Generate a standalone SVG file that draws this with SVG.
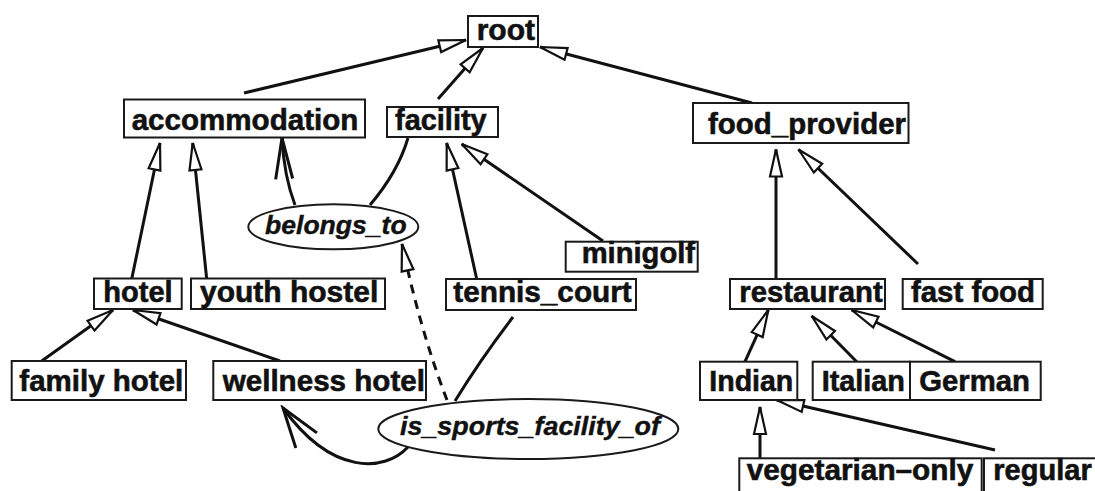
<svg xmlns="http://www.w3.org/2000/svg" width="1095" height="491" viewBox="0 0 1095 491">
  <style>
    .box { fill: #fff; stroke: #1a1a1a; stroke-width: 2; }
    .lbl { font-family: "Liberation Sans", Arial, sans-serif; font-weight: bold; font-size: 30px; fill: #111; stroke: #111; stroke-width: 0.6; }
    .rel { fill: #fff; stroke: #1a1a1a; stroke-width: 2; }
    .rlbl { font-family: "Liberation Sans", Arial, sans-serif; font-weight: bold; font-style: italic; font-size: 25.5px; fill: #111; stroke: #111; stroke-width: 0.4; }
    .isa { fill: none; stroke: #111; stroke-width: 3; marker-end: url(#tri); }
    .link { fill: none; stroke: #111; stroke-width: 3; }
    .dash { fill: none; stroke: #111; stroke-width: 3; stroke-dasharray: 9 7; marker-end: url(#tri); }
  </style>
  <defs>
    <!-- open triangle head for subclass links -->
    <marker id="tri" markerUnits="userSpaceOnUse" markerWidth="32" markerHeight="18" viewBox="-2 -9 32 18" refX="27" refY="0" orient="auto">
      <path d="M0,-6 L27,0 L0,6 Z" fill="#fff" stroke="#111" stroke-width="2.2" stroke-linejoin="miter"/>
    </marker>
    <!-- open stick heads for relation links -->
    <marker id="veeS" markerUnits="userSpaceOnUse" markerWidth="46" markerHeight="24" viewBox="-2 -12 46 24" refX="41" refY="0" orient="auto">
      <path d="M0,-8.5 L41,0 L0,8.5" fill="none" stroke="#111" stroke-width="3"/>
    </marker>
    <marker id="veeL" markerUnits="userSpaceOnUse" markerWidth="46" markerHeight="32" viewBox="-2 -16 46 32" refX="40" refY="0" orient="auto">
      <path d="M0,-13 L40,0 L0,13" fill="none" stroke="#111" stroke-width="3"/>
    </marker>
  </defs>

  <g id="connectors">
    <!-- is-a links -->
    <line class="isa" x1="244" y1="93" x2="466" y2="40"/>
    <line class="isa" x1="438" y1="99" x2="483" y2="48"/>
    <line class="isa" x1="752" y1="103" x2="540" y2="47"/>
    <line class="isa" x1="131.7" y1="279" x2="160" y2="143"/>
    <line class="isa" x1="206.7" y1="279" x2="192.7" y2="143"/>
    <line class="isa" x1="476.7" y1="279" x2="446.7" y2="143"/>
    <line class="isa" x1="603" y1="241" x2="461.7" y2="144"/>
    <line class="isa" x1="776" y1="279" x2="776" y2="149.5"/>
    <line class="isa" x1="918" y1="264" x2="798.5" y2="149.5"/>
    <line class="isa" x1="41.7" y1="361" x2="113" y2="310"/>
    <line class="isa" x1="280" y1="361" x2="133" y2="310"/>
    <line class="isa" x1="745" y1="361.7" x2="768.3" y2="310"/>
    <line class="isa" x1="856.7" y1="361.7" x2="811.7" y2="316"/>
    <line class="isa" x1="955" y1="361.7" x2="851.7" y2="310"/>
    <line class="isa" x1="760" y1="458" x2="760" y2="407"/>
    <line class="isa" x1="995" y1="450" x2="776.7" y2="400"/>
    <!-- belongs_to relation -->
    <path class="link" d="M408,138 Q398,172 370,205"/>
    <path class="link" d="M295,205 Q284,176 282,138" style="marker-end:url(#veeS)"/>
    <!-- is_sports_facility_of relation -->
    <path class="link" d="M513,317 Q480,360 455,401"/>
    <path class="link" d="M408,447 C385,472 332,476 283,408" style="marker-end:url(#veeL)"/>
    <!-- relation specialisation (dashed) -->
    <path class="dash" d="M447,400 Q420,330 402,244"/>
  </g>

  <g id="root"><rect class="box" x="468" y="16" width="70" height="31"/><text class="lbl" x="476.7" y="40" textLength="58.3" lengthAdjust="spacingAndGlyphs">root</text></g>
  <g id="accommodation"><rect class="box" x="124" y="99.5" width="241" height="38"/><text class="lbl" x="131.7" y="129.5" textLength="226.6" lengthAdjust="spacingAndGlyphs">accommodation</text></g>
  <g id="facility"><rect class="box" x="387" y="107" width="111" height="30"/><text class="lbl" x="395" y="130" textLength="91.7" lengthAdjust="spacingAndGlyphs">facility</text></g>
  <g id="food_provider"><rect class="box" x="693" y="103" width="215.5" height="40"/><text class="lbl" x="708" y="133.5" textLength="198" lengthAdjust="spacingAndGlyphs">food_provider</text></g>

  <g id="belongs_to"><ellipse class="rel" cx="333.3" cy="226.8" rx="85" ry="22.5"/><text class="rlbl" x="265" y="233.5" textLength="141.7" lengthAdjust="spacingAndGlyphs">belongs_to</text></g>

  <g id="minigolf"><rect class="box" x="565.7" y="241.7" width="132" height="30"/><text class="lbl" x="581.7" y="263" textLength="113.3" lengthAdjust="spacingAndGlyphs">minigolf</text></g>

  <g id="hotel"><rect class="box" x="94" y="278.5" width="87.7" height="30.5"/><text class="lbl" x="103.3" y="302" textLength="69.4" lengthAdjust="spacingAndGlyphs">hotel</text></g>
  <g id="youth_hostel"><rect class="box" x="191" y="278.5" width="194" height="30.5"/><text class="lbl" x="200" y="302" textLength="178.3" lengthAdjust="spacingAndGlyphs">youth hostel</text></g>
  <g id="tennis_court"><rect class="box" x="446" y="279" width="190" height="31"/><text class="lbl" x="453.3" y="302" textLength="178.4" lengthAdjust="spacingAndGlyphs">tennis_court</text></g>
  <g id="restaurant"><rect class="box" x="730" y="279" width="155" height="30"/><text class="lbl" x="739.3" y="302" textLength="143.4" lengthAdjust="spacingAndGlyphs">restaurant</text></g>
  <g id="fast_food"><rect class="box" x="902.7" y="279" width="140" height="30"/><text class="lbl" x="911" y="302" textLength="124" lengthAdjust="spacingAndGlyphs">fast food</text></g>

  <g id="family_hotel"><rect class="box" x="11.7" y="361" width="174.3" height="39"/><text class="lbl" x="19.3" y="391" textLength="164" lengthAdjust="spacingAndGlyphs">family hotel</text></g>
  <g id="wellness_hotel"><rect class="box" x="213.3" y="361" width="212.7" height="39"/><text class="lbl" x="222.7" y="391" textLength="202.3" lengthAdjust="spacingAndGlyphs">wellness hotel</text></g>
  <g id="Indian"><rect class="box" x="700" y="361.7" width="97.3" height="38.3"/><text class="lbl" x="709.3" y="391" textLength="84" lengthAdjust="spacingAndGlyphs">Indian</text></g>
  <g id="Italian"><rect class="box" x="812.7" y="361.7" width="97.3" height="38.3"/><text class="lbl" x="821.7" y="391" textLength="83.3" lengthAdjust="spacingAndGlyphs">Italian</text></g>
  <g id="German"><rect class="box" x="910" y="361.7" width="130.7" height="38.3"/><text class="lbl" x="919.3" y="391" textLength="110.7" lengthAdjust="spacingAndGlyphs">German</text></g>

  <g id="is_sports_facility_of"><ellipse class="rel" cx="528.3" cy="429" rx="150" ry="30"/><text class="rlbl" x="400" y="435" textLength="260" lengthAdjust="spacingAndGlyphs">is_sports_facility_of</text></g>

  <g id="vegetarian-only"><rect class="box" x="739.3" y="458.3" width="242.4" height="45"/><text class="lbl" x="746.7" y="480" textLength="226.6" lengthAdjust="spacingAndGlyphs">vegetarian–only</text></g>
  <g id="regular"><rect class="box" x="984" y="458.3" width="120" height="45"/><text class="lbl" x="993.3" y="480" textLength="98.4" lengthAdjust="spacingAndGlyphs">regular</text></g>
</svg>
